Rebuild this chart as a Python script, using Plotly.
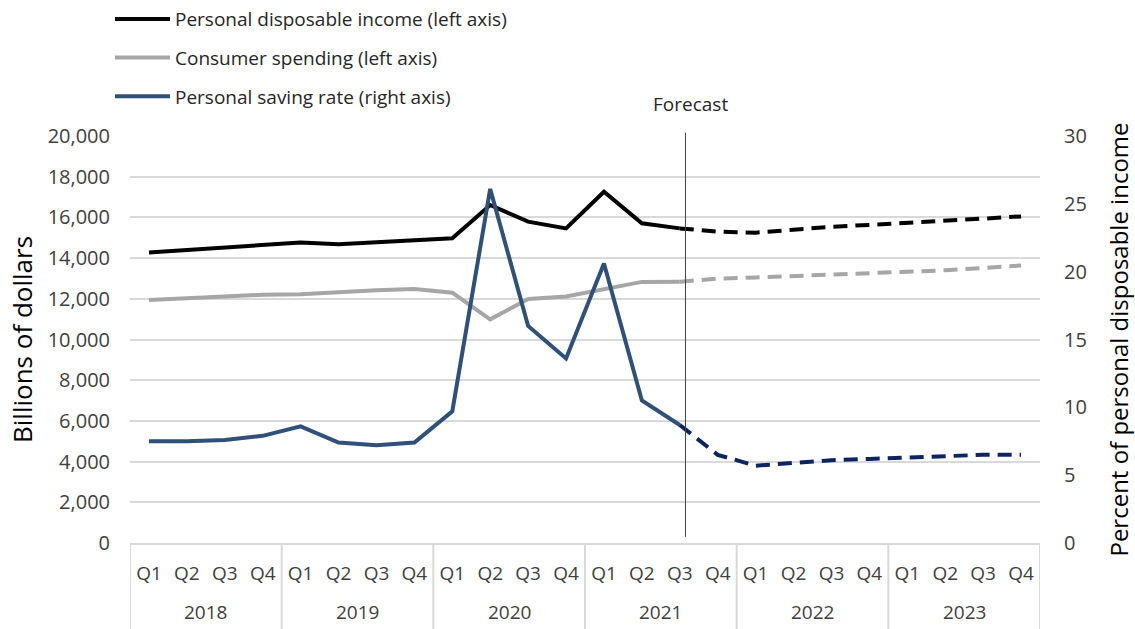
import plotly.graph_objects as go

# quarters 2018 Q1 .. 2023 Q4
years = ["2018", "2019", "2020", "2021", "2022", "2023"]
quarters = ["Q1", "Q2", "Q3", "Q4"]

# billions of dollars (left axis)
income = [14270, 14400, 14530, 14640, 14770, 14680, 14790, 14890,
          14970, 16610, 15790, 15460, 17260, 15710, 15460,
          15300, 15250, 15410, 15540, 15630, 15720, 15820, 15940, 16050]
spending = [11940, 12020, 12140, 12200, 12220, 12330, 12420, 12480,
            12300, 10990, 11990, 12110, 12470, 12830, 12840,
            12990, 13050, 13120, 13200, 13230, 13300, 13400, 13510, 13640]
# percent of disposable income (right axis)
saving = [7.5, 7.5, 7.6, 7.9, 8.6, 7.4, 7.2, 7.4,
          9.7, 26.1, 16.0, 13.6, 20.6, 10.5, 8.7,
          6.5, 5.7, 5.9, 6.1, 6.2, 6.3, 6.4, 6.5, 6.5]

last_actual = 14  # 2021 Q3, forecast starts after it

x_qtr = [q for y in years for q in quarters]
xs = list(range(len(x_qtr)))
nq = len(quarters)

FONT = "Open Sans"
GRID = "#D9D9D9"
TXT = "#404040"

series = [
    ("Personal disposable income (left axis)", income, "#000000", "#000000", "y"),
    ("Consumer spending (left axis)", spending, "#A6A6A6", "#A6A6A6", "y"),
    ("Personal saving rate (right axis)", saving, "#2F5078", "#0B2560", "y2"),
]

fig = go.Figure()
for i, (name, vals, col, fcol, ax) in enumerate(series):
    fig.add_trace(go.Scatter(
        x=xs[:last_actual + 1], y=vals[:last_actual + 1], name=name,
        mode="lines", line=dict(color=col, width=4), yaxis=ax,
        legendgroup=f"g{i}", hoverinfo="skip"))
    fig.add_trace(go.Scatter(
        x=xs[last_actual:], y=vals[last_actual:], name=name,
        mode="lines", line=dict(color=fcol, width=4, dash="14px,8px"),
        yaxis=ax, showlegend=False, hoverinfo="skip"))

# year row under the quarter labels, with boxes
for k, yr in enumerate(years):
    fig.add_annotation(text=yr, x=k * nq + (nq - 1) / 2, xref="x", yref="paper",
                       y=-0.17, yanchor="middle", showarrow=False,
                       font=dict(size=19, color=TXT))
for k in range(len(years) + 1):
    fig.add_shape(type="line", xref="x", yref="paper", x0=k * nq - 0.5,
                  x1=k * nq - 0.5, y0=0, y1=-0.215, line=dict(color=GRID, width=2))

# forecast divider
xf = last_actual + 0.15
fig.add_shape(type="line", xref="x", yref="paper", x0=xf, x1=xf,
              y0=0.015, y1=1.008, line=dict(color="#404040", width=1))
fig.add_annotation(text="Forecast", xref="x", yref="paper", x=xf + 0.12,
                   y=1.079, yanchor="middle", showarrow=False,
                   font=dict(size=19, color="#262626"))

fig.update_layout(
    width=1135, height=629,
    margin=dict(l=130, r=95, t=136, b=86, autoexpand=False),
    paper_bgcolor="white", plot_bgcolor="white",
    font=dict(family=FONT, size=18, color=TXT),
    showlegend=True,
    legend=dict(x=-0.022, y=1.334, xanchor="left", yanchor="top",
                font=dict(size=19, color="#262626"), tracegroupgap=11,
                itemwidth=55, bgcolor="rgba(0,0,0,0)"),
    xaxis=dict(range=[-0.5, len(xs) - 0.5], tickvals=xs, ticktext=x_qtr,
               showgrid=False, showline=True, linecolor=GRID, linewidth=2,
               zeroline=False, ticks="", ticklabelstandoff=12, automargin=False,
               tickfont=dict(size=19, color=TXT)),
    yaxis=dict(range=[0, 20000], dtick=2000, tickformat=",", showgrid=True,
               gridcolor=GRID, gridwidth=2, zeroline=False, automargin=False,
               ticklabelstandoff=19, tickfont=dict(size=20, color=TXT),
               title=dict(text="Billions of dollars", font=dict(size=26, color="#000000"),
                          standoff=7)),
    yaxis2=dict(range=[0, 30], dtick=5, overlaying="y", side="right",
                showgrid=False, zeroline=False, automargin=False,
                ticklabelstandoff=23, tickfont=dict(size=20, color=TXT),
                title=dict(text="Percent of personal disposable income",
                           font=dict(size=24, color="#000000"), standoff=25)),
)

# drop the page's default 8px body margin so the figure fills the window
fig.write_html("out.html", config={"displayModeBar": False},
               post_script="document.body.style.margin='0px';")
